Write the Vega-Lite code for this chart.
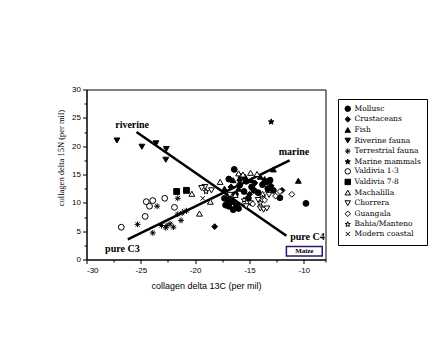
{
  "$schema": "https://vega.github.io/schema/vega-lite/v6.json",
  "width": 239,
  "height": 170,
  "autosize": {"type": "none"},
  "padding": {"left": 86.5, "top": 89.5, "right": 117.5, "bottom": 82.5},
  "background": "white",
  "config": {
    "view": {"stroke": "black", "strokeWidth": 1},
    "axis": {"domainColor": "black", "tickColor": "black", "labelColor": "black", "titleColor": "black", "grid": false},
    "legend": {"title": null, "orient": "none", "legendX": 251.5, "legendY": 9.5, "strokeColor": "black", "padding": 6,
      "labelFont": "DejaVu Serif", "labelFontSize": 7.5, "labelColor": "black", "symbolSize": 30, "symbolStrokeWidth": 1,
      "rowPadding": 0.6, "labelOffset": 3, "fillColor": "white"}
  },
  "datasets": {
    "pts": [
      {"x": -16.4, "y": 15.9, "group": "Mollusc"},
      {"x": -9.8, "y": 9.9, "group": "Mollusc"},
      {"x": -12.2, "y": 10.9, "group": "Mollusc"},
      {"x": -16.9, "y": 9.4, "group": "Mollusc"},
      {"x": -16.5, "y": 8.8, "group": "Mollusc"},
      {"x": -16.6, "y": 10.2, "group": "Mollusc"},
      {"x": -17.0, "y": 10.5, "group": "Mollusc"},
      {"x": -16.2, "y": 9.6, "group": "Mollusc"},
      {"x": -15.1, "y": 10.8, "group": "Mollusc"},
      {"x": -14.8, "y": 12.8, "group": "Mollusc"},
      {"x": -13.4, "y": 13.7, "group": "Mollusc"},
      {"x": -13.1, "y": 14.0, "group": "Mollusc"},
      {"x": -13.3, "y": 12.5, "group": "Mollusc"},
      {"x": -12.8, "y": 12.2, "group": "Mollusc"},
      {"x": -16.9, "y": 14.2, "group": "Mollusc"},
      {"x": -15.9, "y": 13.1, "group": "Mollusc"},
      {"x": -14.6, "y": 12.2, "group": "Mollusc"},
      {"x": -17.3, "y": 10.8, "group": "Mollusc"},
      {"x": -15.5, "y": 12.0, "group": "Mollusc"},
      {"x": -16.3, "y": 11.5, "group": "Mollusc"},
      {"x": -13.8, "y": 13.2, "group": "Mollusc"},
      {"x": -14.2, "y": 11.8, "group": "Mollusc"},
      {"x": -15.3, "y": 13.8, "group": "Mollusc"},
      {"x": -17.2, "y": 9.6, "group": "Mollusc"},
      {"x": -16.0, "y": 9.0, "group": "Mollusc"},
      {"x": -18.2, "y": 5.8, "group": "Crustaceans"},
      {"x": -12.0, "y": 12.2, "group": "Crustaceans"},
      {"x": -15.9, "y": 14.0, "group": "Crustaceans"},
      {"x": -14.5, "y": 13.5, "group": "Crustaceans"},
      {"x": -13.0, "y": 13.0, "group": "Crustaceans"},
      {"x": -16.7, "y": 12.8, "group": "Crustaceans"},
      {"x": -15.0, "y": 11.5, "group": "Crustaceans"},
      {"x": -10.5, "y": 13.9, "group": "Fish"},
      {"x": -12.8, "y": 15.9, "group": "Fish"},
      {"x": -14.0, "y": 14.6, "group": "Fish"},
      {"x": -16.5, "y": 14.0, "group": "Fish"},
      {"x": -15.4, "y": 14.6, "group": "Fish"},
      {"x": -17.3, "y": 12.5, "group": "Fish"},
      {"x": -15.8, "y": 14.8, "group": "Fish"},
      {"x": -13.6, "y": 14.2, "group": "Fish"},
      {"x": -14.8, "y": 14.0, "group": "Fish"},
      {"x": -16.0, "y": 12.5, "group": "Fish"},
      {"x": -27.2, "y": 21.0, "group": "Riverine fauna"},
      {"x": -24.9, "y": 19.9, "group": "Riverine fauna"},
      {"x": -23.6, "y": 20.5, "group": "Riverine fauna"},
      {"x": -22.65, "y": 19.5, "group": "Riverine fauna"},
      {"x": -22.7, "y": 17.6, "group": "Riverine fauna"},
      {"x": -25.3, "y": 6.2, "group": "Terrestrial fauna"},
      {"x": -23.5, "y": 9.4, "group": "Terrestrial fauna"},
      {"x": -23.9, "y": 4.7, "group": "Terrestrial fauna"},
      {"x": -23.1, "y": 6.0, "group": "Terrestrial fauna"},
      {"x": -22.6, "y": 6.0, "group": "Terrestrial fauna"},
      {"x": -22.0, "y": 5.7, "group": "Terrestrial fauna"},
      {"x": -22.7, "y": 5.6, "group": "Terrestrial fauna"},
      {"x": -21.6, "y": 10.8, "group": "Terrestrial fauna"},
      {"x": -21.3, "y": 6.9, "group": "Terrestrial fauna"},
      {"x": -21.2, "y": 8.2, "group": "Terrestrial fauna"},
      {"x": -21.6, "y": 8.0, "group": "Terrestrial fauna"},
      {"x": -22.3, "y": 6.3, "group": "Terrestrial fauna"},
      {"x": -20.8, "y": 8.6, "group": "Terrestrial fauna"},
      {"x": -13.0, "y": 24.3, "group": "Marine mammals"},
      {"x": -26.8, "y": 5.7, "group": "Valdivia 1-3"},
      {"x": -24.6, "y": 7.6, "group": "Valdivia 1-3"},
      {"x": -24.5, "y": 10.2, "group": "Valdivia 1-3"},
      {"x": -23.9, "y": 10.4, "group": "Valdivia 1-3"},
      {"x": -24.2, "y": 9.4, "group": "Valdivia 1-3"},
      {"x": -22.8, "y": 10.8, "group": "Valdivia 1-3"},
      {"x": -21.9, "y": 9.2, "group": "Valdivia 1-3"},
      {"x": -21.7, "y": 12.0, "group": "Valdivia 7-8"},
      {"x": -20.8, "y": 12.2, "group": "Valdivia 7-8"},
      {"x": -20.3, "y": 11.6, "group": "Machalilla"},
      {"x": -19.6, "y": 8.1, "group": "Machalilla"},
      {"x": -18.6, "y": 10.2, "group": "Machalilla"},
      {"x": -17.7, "y": 13.7, "group": "Machalilla"},
      {"x": -16.0, "y": 15.2, "group": "Machalilla"},
      {"x": -14.9, "y": 15.3, "group": "Machalilla"},
      {"x": -14.3, "y": 15.1, "group": "Machalilla"},
      {"x": -15.6, "y": 15.0, "group": "Machalilla"},
      {"x": -13.8, "y": 11.6, "group": "Machalilla"},
      {"x": -16.3, "y": 11.4, "group": "Machalilla"},
      {"x": -19.1, "y": 12.8, "group": "Chorrera"},
      {"x": -18.5, "y": 12.2, "group": "Chorrera"},
      {"x": -14.0, "y": 9.0, "group": "Chorrera"},
      {"x": -13.7, "y": 8.8, "group": "Chorrera"},
      {"x": -13.4, "y": 9.0, "group": "Chorrera"},
      {"x": -14.2, "y": 10.5, "group": "Chorrera"},
      {"x": -13.2, "y": 11.4, "group": "Chorrera"},
      {"x": -14.9, "y": 9.9, "group": "Chorrera"},
      {"x": -16.8, "y": 11.4, "group": "Chorrera"},
      {"x": -15.3, "y": 9.4, "group": "Chorrera"},
      {"x": -19.4, "y": 12.6, "group": "Chorrera"},
      {"x": -11.1, "y": 11.5, "group": "Guangala"},
      {"x": -12.2, "y": 12.0, "group": "Guangala"},
      {"x": -13.6, "y": 10.5, "group": "Guangala"},
      {"x": -14.7, "y": 9.8, "group": "Guangala"},
      {"x": -12.6, "y": 11.2, "group": "Guangala"},
      {"x": -19.0, "y": 12.0, "group": "Bahia/Manteno"},
      {"x": -14.0, "y": 10.0, "group": "Bahia/Manteno"},
      {"x": -15.5, "y": 10.5, "group": "Bahia/Manteno"},
      {"x": -19.3, "y": 10.8, "group": "Modern coastal"},
      {"x": -13.4, "y": 12.2, "group": "Modern coastal"},
      {"x": -13.7, "y": 11.1, "group": "Modern coastal"},
      {"x": -21.0, "y": 8.5, "group": "Modern coastal"}
    ],
    "lines": [
      {"line": "riverine", "x": -25.4, "y": 22.5},
      {"line": "riverine", "x": -11.6, "y": 4.2},
      {"line": "marine", "x": -26.2, "y": 3.55},
      {"line": "marine", "x": -11.3, "y": 17.5}
    ],
    "labels": [
      {"label": "riverine", "x": -25.8, "y": 23.7},
      {"label": "marine", "x": -10.9, "y": 18.9},
      {"label": "pure C3", "x": -26.7, "y": 1.9},
      {"label": "pure C4", "x": -9.66, "y": 4.0}
    ],
    "maize": [
      {"label": "Maize", "x": -11.6, "x2": -8.3, "y": 2.3, "y2": 0.6, "xc": -9.95, "yc": 1.45}
    ]
  },
  "resolve": {"axis": {"x": "independent", "y": "independent"}},
  "layer": [
    {
      "data": {"name": "pts"},
      "mark": {"type": "point", "opacity": 0},
      "encoding": {
        "x": {"field": "x", "type": "quantitative", "scale": {"domain": [-30, -8], "nice": false, "zero": false},
          "axis": {"orient": "bottom", "values": [-27.5, -22.5, -17.5, -12.5, -8], "labels": false, "domain": false, "tickSize": 2.5, "title": null}},
        "y": {"field": "y", "type": "quantitative", "scale": {"domain": [0, 30], "nice": false, "zero": false},
          "axis": {"orient": "left", "values": [2.5, 7.5, 12.5, 17.5, 22.5, 27.5], "labels": false, "domain": false, "tickSize": 2.5, "title": null}}
      }
    },
    {
      "data": {"name": "lines"},
      "mark": {"type": "line", "color": "black", "strokeWidth": 2.5},
      "encoding": {
        "x": {"field": "x", "type": "quantitative", "axis": null},
        "y": {"field": "y", "type": "quantitative", "axis": null},
        "detail": {"field": "line"}
      }
    },
    {
      "data": {"name": "pts"},
      "mark": {"type": "point", "strokeWidth": 1, "size": 34, "opacity": 1},
      "encoding": {
        "x": {"field": "x", "type": "quantitative",
          "axis": {"orient": "bottom", "values": [-30, -25, -20, -15, -10], "tickSize": 4, "labelFont": "Liberation Sans", "labelFontSize": 8, "labelPadding": 3,
            "labelExpr": "replace(datum.label, '\u2212', '-')",
            "title": "collagen delta 13C (per mil)", "titleFont": "Liberation Sans", "titleFontSize": 9, "titleFontWeight": "normal", "titlePadding": 7}},
        "y": {"field": "y", "type": "quantitative",
          "axis": {"orient": "left", "values": [0, 5, 10, 15, 20, 25, 30], "tickSize": 4, "labelFont": "Liberation Sans", "labelFontSize": 8, "labelPadding": 2,
            "title": "collagen delta 15N (per mil)", "titleFont": "Liberation Serif", "titleFontSize": 8.5, "titleFontWeight": "normal",
            "titleX": -26, "titleY": 68, "titleAngle": -90, "titleAlign": "center", "titleBaseline": "middle"}},
        "shape": {"field": "group", "type": "nominal",
          "scale": {
            "domain": ["Mollusc", "Crustaceans", "Fish", "Riverine fauna", "Terrestrial fauna", "Marine mammals", "Valdivia 1-3", "Valdivia 7-8", "Machalilla", "Chorrera", "Guangala", "Bahia/Manteno", "Modern coastal"],
            "range": ["circle", "diamond", "triangle-up", "triangle-down",
              "M-1,0L1,0M0,-1L0,1M-0.72,-0.72L0.72,0.72M-0.72,0.72L0.72,-0.72",
              "M0,-1L0.235,-0.324L0.951,-0.309L0.38,0.124L0.588,0.809L0,0.4L-0.588,0.809L-0.38,0.124L-0.951,-0.309L-0.235,-0.324Z",
              "circle", "square", "triangle-up", "triangle-down", "diamond",
              "M0,-1L0.235,-0.324L0.951,-0.309L0.38,0.124L0.588,0.809L0,0.4L-0.588,0.809L-0.38,0.124L-0.951,-0.309L-0.235,-0.324Z",
              "M-0.75,-0.75L0.75,0.75M-0.75,0.75L0.75,-0.75"]
          }
        },
        "fill": {"field": "group", "type": "nominal",
          "scale": {
            "domain": ["Mollusc", "Crustaceans", "Fish", "Riverine fauna", "Terrestrial fauna", "Marine mammals", "Valdivia 1-3", "Valdivia 7-8", "Machalilla", "Chorrera", "Guangala", "Bahia/Manteno", "Modern coastal"],
            "range": ["black", "black", "black", "black", "black", "black", "white", "black", "white", "white", "white", "white", "white"]
          }
        },
        "stroke": {"field": "group", "type": "nominal",
          "scale": {
            "domain": ["Mollusc", "Crustaceans", "Fish", "Riverine fauna", "Terrestrial fauna", "Marine mammals", "Valdivia 1-3", "Valdivia 7-8", "Machalilla", "Chorrera", "Guangala", "Bahia/Manteno", "Modern coastal"],
            "range": ["black", "black", "black", "black", "black", "black", "black", "black", "black", "black", "black", "black", "black"]
          }
        }
      }
    },
    {
      "data": {"name": "labels"},
      "mark": {"type": "text", "font": "Liberation Serif", "fontSize": 10, "fontWeight": "bold", "color": "black", "align": "center", "baseline": "middle"},
      "encoding": {
        "x": {"field": "x", "type": "quantitative", "axis": null},
        "y": {"field": "y", "type": "quantitative", "axis": null},
        "text": {"field": "label"}
      }
    },
    {
      "data": {"name": "maize"},
      "mark": {"type": "rect", "fill": "white", "stroke": "#2e1470", "strokeWidth": 1.5},
      "encoding": {
        "x": {"field": "x", "type": "quantitative", "axis": null},
        "x2": {"field": "x2"},
        "y": {"field": "y", "type": "quantitative", "axis": null},
        "y2": {"field": "y2"}
      }
    },
    {
      "data": {"name": "maize"},
      "mark": {"type": "text", "font": "Liberation Sans Narrow", "fontSize": 7, "fontWeight": "bold", "color": "black", "align": "center", "baseline": "middle"},
      "encoding": {
        "x": {"field": "xc", "type": "quantitative", "axis": null},
        "y": {"field": "yc", "type": "quantitative", "axis": null},
        "text": {"field": "label"}
      }
    }
  ]
}
